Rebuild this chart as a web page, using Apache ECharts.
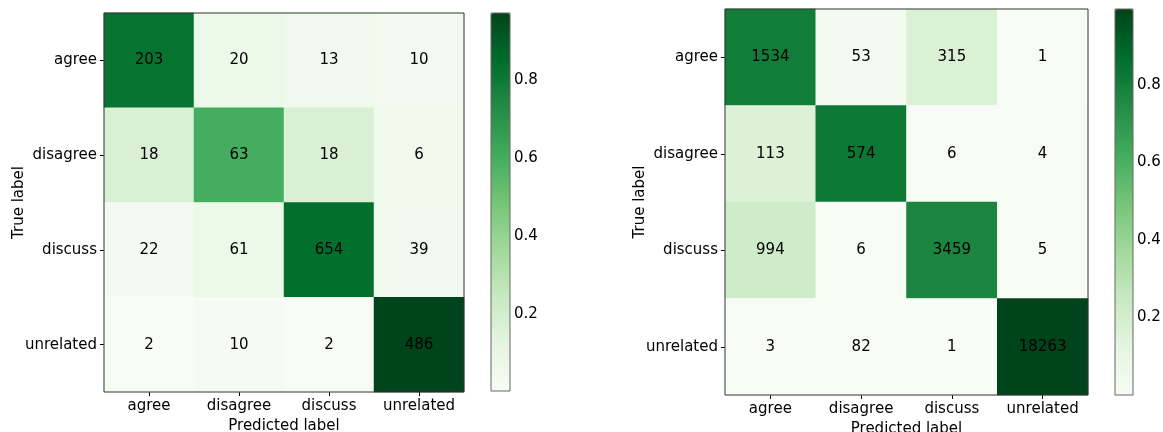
<!DOCTYPE html>
<html>
<head>
<meta charset="utf-8">
<script src="https://cdn.jsdelivr.net/npm/echarts@6/dist/echarts.min.js"></script>
<style>
  html, body { margin: 0; padding: 0; background: #fff; }
  #chart { width: 1163px; height: 432px; }
</style>
</head>
<body>
<div id="chart"></div>
<script>
const labels = ['agree', 'disagree', 'discuss', 'unrelated']
const colorbarTicks = [0.2, 0.4, 0.6, 0.8]

// confusion matrix counts, rows = true label, cols = predicted label
const leftCounts = [
  [203, 20, 13, 10],
  [18, 63, 18, 6],
  [22, 61, 654, 39],
  [2, 10, 2, 486]
]
const rightCounts = [
  [1534, 53, 315, 1],
  [113, 574, 6, 4],
  [994, 6, 3459, 5],
  [3, 82, 1, 18263]
]

const greens = ['#f7fcf5', '#e5f5e0', '#c7e9c0', '#a1d99b', '#74c476', '#41ab5d', '#238b45', '#006d2c', '#00441b']
const font = 'DejaVu Sans'

// cells coloured by row share, labelled with raw count
function cells (counts) {
  const out = []
  counts.forEach((row, i) => {
    const total = row.reduce((a, b) => a + b, 0)
    row.forEach((c, j) => out.push([j, i, c / total, c]))
  })
  return out
}

const leftData = cells(leftCounts)
const rightData = cells(rightCounts)
const range = d => {
  const v = d.map(x => x[2])
  return [Math.min(...v), Math.max(...v)]
}
const leftRange = range(leftData)
const rightRange = range(rightData)

const panels = [
  { data: leftData, range: leftRange, grid: { left: 104, top: 13, width: 360, height: 379 }, bar: { left: 491, top: 13, width: 19, height: 378 } },
  { data: rightData, range: rightRange, grid: { left: 725, top: 9, width: 363, height: 386 }, bar: { left: 1115, top: 9, width: 18, height: 386 } }
]

const option = { animation: false, grid: [], xAxis: [], yAxis: [], series: [], visualMap: [] }

panels.forEach((p, k) => {
  const g = option.grid.length
  option.grid.push(Object.assign({ show: true, borderColor: '#333', borderWidth: 1, backgroundColor: 'transparent', z: 5, outerBoundsMode: 'none', containLabel: false }, p.grid))
  option.xAxis.push({
    type: 'category', gridIndex: g, data: labels, position: 'bottom',
    axisLine: { show: false },
    axisTick: { show: true, alignWithLabel: true, interval: 0, length: 4, lineStyle: { color: '#000' } },
    axisLabel: { interval: 0, fontFamily: font, fontSize: 15, color: '#000', margin: 7 },
    name: 'Predicted label', nameLocation: 'middle', nameGap: 24,
    nameTextStyle: { fontFamily: font, fontSize: 15, color: '#000' },
    splitLine: { show: false }
  })
  option.yAxis.push({
    type: 'category', gridIndex: g, data: labels, inverse: true,
    axisLine: { show: false },
    axisTick: { show: true, alignWithLabel: true, interval: 0, length: 4, lineStyle: { color: '#000' } },
    axisLabel: { interval: 0, fontFamily: font, fontSize: 15, color: '#000', margin: 7 },
    name: 'True label', nameLocation: 'middle', nameGap: 77, nameMoveOverlap: false,
    nameTextStyle: { fontFamily: font, fontSize: 15, color: '#000' },
    splitLine: { show: false }
  })
  option.series.push({
    type: 'heatmap', xAxisIndex: g, yAxisIndex: g, data: p.data,
    label: { show: true, formatter: q => String(q.value[3]), fontFamily: font, fontSize: 15, color: '#000' },
    emphasis: { disabled: true }
  })
  option.visualMap.push({
    type: 'continuous', seriesIndex: k * 2, dimension: 2,
    min: p.range[0], max: p.range[1], calculable: false, show: true,
    left: p.bar.left, top: p.bar.top, itemWidth: p.bar.width, itemHeight: p.bar.height,
    padding: 0, text: null, showLabel: false, hoverLink: false,
    inRange: { color: greens }
  })

  // colorbar frame and ticks
  const b = option.grid.length
  option.grid.push(Object.assign({ show: true, borderColor: '#666', borderWidth: 1, backgroundColor: 'transparent', z: 5, outerBoundsMode: 'none', containLabel: false }, p.bar))
  option.xAxis.push({ type: 'value', gridIndex: b, show: false, min: 0, max: 1 })
  option.yAxis.push({
    type: 'value', gridIndex: b, position: 'right', min: p.range[0], max: p.range[1],
    axisLine: { show: false },
    axisTick: { show: true, length: 4, lineStyle: { color: '#000' }, customValues: colorbarTicks },
    axisLabel: { fontFamily: font, fontSize: 15, color: '#000', margin: 4, customValues: colorbarTicks, formatter: v => v.toFixed(1) },
    splitLine: { show: false }
  })
  option.series.push({ type: 'scatter', xAxisIndex: b, yAxisIndex: b, data: [], silent: true })
})

const chart = echarts.init(document.getElementById('chart'))
chart.setOption(option)
</script>
</body>
</html>
